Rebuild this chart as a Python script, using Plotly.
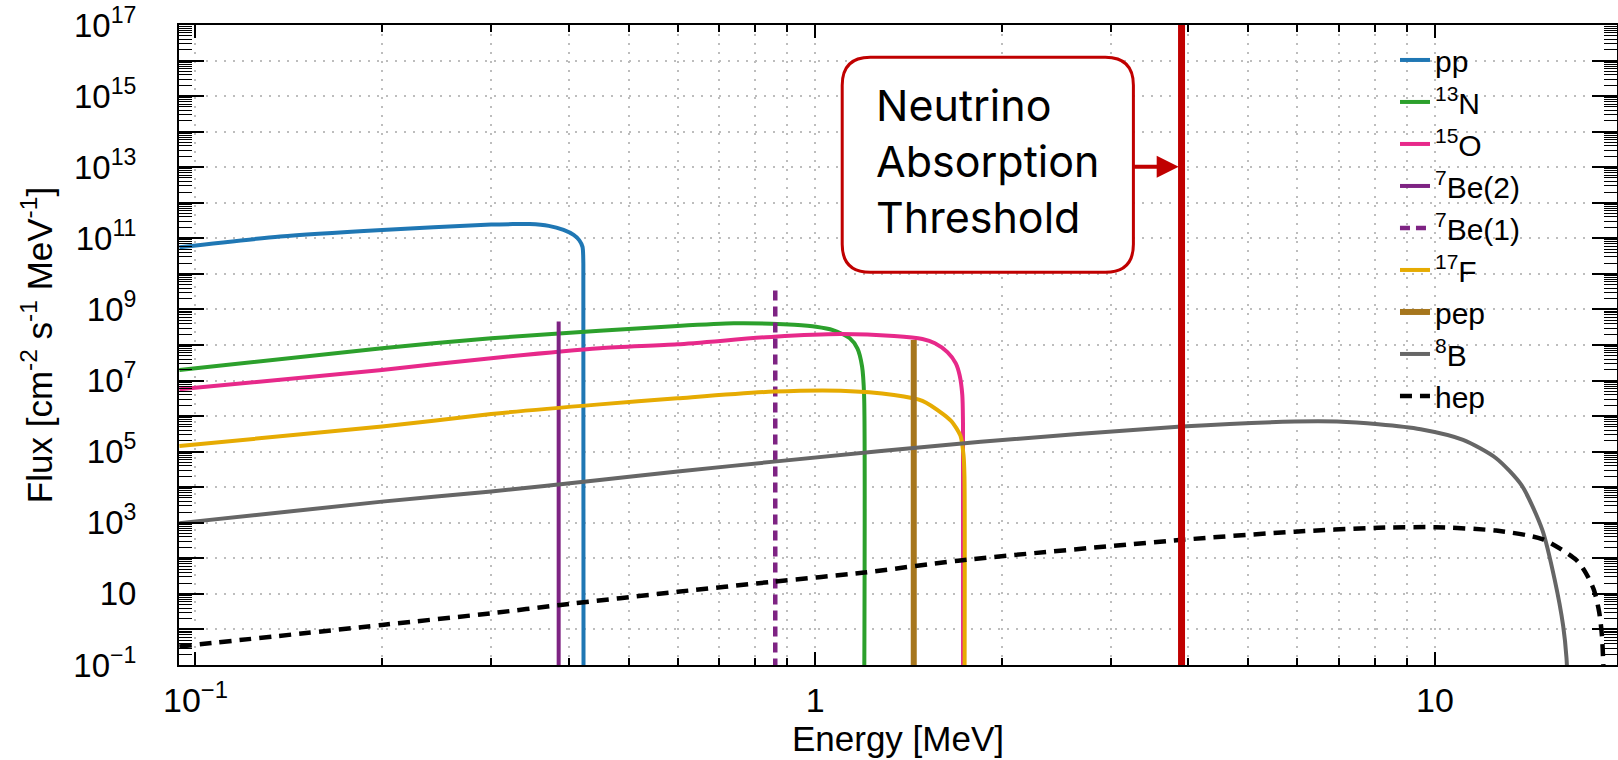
import numpy as np
import plotly.graph_objects as go

# ---------------- data ----------------
# energies in MeV, fluxes given as log10(flux [cm^-2 s^-1 MeV^-1])
pp_E = [0.0942, 0.137, 0.2, 0.3, 0.325, 0.346, 0.3715, 0.3925, 0.4075, 0.416, 0.4212, 0.4225, 0.4228]
pp_logF = [10.75, 11.05, 11.235, 11.39, 11.40, 11.40, 11.35, 11.235, 11.095, 10.95, 10.76, 10.3, -2]

n13_E = [0.0942, 0.2, 0.3, 0.449, 0.599, 0.739, 0.85, 0.925, 1.003, 1.068, 1.137, 1.17, 1.19, 1.199, 1.1995]
n13_logF = [7.30, 7.91, 8.19, 8.40, 8.535, 8.61, 8.60, 8.57, 8.515, 8.42, 8.19, 7.9, 7.4, 6.6, -2]

o15_E = [0.0942, 0.2, 0.3, 0.449, 0.599, 0.858, 1.099, 1.34, 1.489, 1.56, 1.634, 1.685, 1.71, 1.727, 1.7315, 1.732]
o15_logF = [6.755, 7.30, 7.63, 7.91, 8.02, 8.235, 8.31, 8.255, 8.17, 8.05, 7.8, 7.49, 7.15, 6.6, 5.8, -2]

be7_2_E = [0.3855, 0.3855]
be7_2_logF = [-2, 8.66]

be7_1_E = [0.862, 0.862]
be7_1_logF = [-2, 9.6]

f17_E = [0.0942, 0.2, 0.3, 0.449, 0.599, 0.858, 1.099, 1.34, 1.489, 1.61, 1.66, 1.715, 1.735, 1.741, 1.7415]
f17_logF = [5.16, 5.705, 6.06, 6.33, 6.50, 6.69, 6.715, 6.595, 6.43, 6.05, 5.85, 5.45, 4.9, 4.3, -2]

pep_E = [1.442, 1.442]
pep_logF = [-2, 8.14]

b8_E = [0.0942, 0.2, 0.3, 0.449, 0.6, 0.858, 1.85, 3.9, 5.94, 6.95, 8.1, 9.48, 11.1, 12.55, 13.8, 14.9, 15.6, 16.1, 16.3, 16.4]
b8_logF = [2.99, 3.595, 3.88, 4.205, 4.44, 4.72, 5.28, 5.705, 5.845, 5.845, 5.77, 5.63, 5.33, 4.815, 4.05, 2.8, 1.4, 0.1, -0.8, -2]

hep_E = [0.0942, 0.2, 0.3, 0.388, 0.6, 0.858, 1.2, 1.7, 3.9, 5.94, 8.1, 10.0, 12.55, 14.9, 16.9, 17.5, 18.05, 18.4, 18.6, 18.77]
hep_logF = [-0.48, 0.127, 0.455, 0.69, 1.06, 1.345, 1.60, 1.935, 2.52, 2.75, 2.86, 2.875, 2.78, 2.54, 1.955, 1.6, 1.11, 0.5, -0.2, -2]

threshold_E = [3.9, 3.9]
threshold_logF = [-3, 18]

names = ["pp", "<sup>13</sup>N", "<sup>15</sup>O", "<sup>7</sup>Be(2)", "<sup>7</sup>Be(1)",
         "<sup>17</sup>F", "pep", "<sup>8</sup>B", "hep"]

y_tick_exps = list(range(-1, 18))
x_tick_vals = [0.1, 1, 10]
x_tick_text = ["10<sup>\u22121</sup>", "1", "10"]

annotation_text = "Neutrino<br>Absorption<br>Threshold"

# ---------------- styles ----------------
colors = ["#1F77B4", "#2CA02C", "#E7298A", "#7E2383", "#7E2383",
          "#E6AB02", "#A6761D", "#666666", "#000000"]
dashes = ["solid", "solid", "solid", "solid", "10px,6px", "solid", "solid", "solid", "12px,8px"]
widths = [4, 4, 4, 4, 4.5, 4, 6, 4, 4.5]
shapes_ = ["spline", "spline", "spline", "linear", "linear", "spline", "linear", "spline", "spline"]

series = [(pp_E, pp_logF), (n13_E, n13_logF), (o15_E, o15_logF), (be7_2_E, be7_2_logF),
          (be7_1_E, be7_1_logF), (f17_E, f17_logF), (pep_E, pep_logF), (b8_E, b8_logF),
          (hep_E, hep_logF)]

fig = go.Figure()
for (E, lf), name, c, d, w, s in zip(series, names, colors, dashes, widths, shapes_):
    line = dict(color=c, width=w, dash=d, shape=s)
    if s == "spline":
        line["smoothing"] = 0.7
    fig.add_trace(go.Scatter(x=E, y=10 ** np.array(lf, dtype=float), mode="lines", name=name,
                             line=line, hoverinfo="skip"))

fig.add_trace(go.Scatter(x=threshold_E, y=10 ** np.array(threshold_logF, dtype=float), mode="lines",
                         line=dict(color="#C00000", width=7), showlegend=False, hoverinfo="skip"))

FONT = "Liberation Sans, Arial, sans-serif"
GRID = "#bdbdbd"

y_tickvals = [10.0 ** e for e in y_tick_exps]
y_ticktext = []
for e in y_tick_exps:
    if e % 2 == 0:
        y_ticktext.append("")
    elif e == 1:
        y_ticktext.append("10")
    else:
        y_ticktext.append("10<sup>%s</sup>" % (str(e).replace("-", "\u2212")))
y_minor = [m * 10.0 ** e for e in range(-1, 17) for m in range(2, 10)]
x_minor = [m * 10.0 ** e for e in (-1, 0) for m in range(2, 10)]

fig.update_xaxes(type="log", range=[-1.0266, 1.2937], automargin=False,
                 tickmode="array", tickvals=x_tick_vals, ticktext=x_tick_text,
                 ticks="inside", ticklen=13, tickwidth=2, tickcolor="black",
                 showline=True, linecolor="black", linewidth=2, mirror="ticks",
                 showgrid=True, gridcolor=GRID, gridwidth=1.5, griddash="2px,7px",
                 zeroline=False, ticklabelstandoff=4,
                 tickfont=dict(family=FONT, size=34, color="black"),
                 minor=dict(tickmode="array", tickvals=x_minor, ticks="inside", ticklen=7,
                            tickwidth=1.5, tickcolor="black", showgrid=True,
                            gridcolor=GRID, gridwidth=1.5, griddash="2px,7px"),
                 title=dict(text="Energy [MeV]", font=dict(family=FONT, size=35, color="black"),
                            standoff=0))
fig.update_yaxes(type="log", range=[-1, 17], automargin=False,
                 tickmode="array", tickvals=y_tickvals, ticktext=y_ticktext,
                 ticks="inside", ticklen=25, tickwidth=2, tickcolor="black",
                 showline=True, linecolor="black", linewidth=2, mirror="ticks",
                 showgrid=True, gridcolor=GRID, gridwidth=1.5, griddash="2px,7px",
                 zeroline=False, ticklabelstandoff=34,
                 tickfont=dict(family=FONT, size=33, color="black"),
                 minor=dict(tickmode="array", tickvals=y_minor, ticks="inside", ticklen=13,
                            tickwidth=1, tickcolor="black", showgrid=False),
                 title=dict(text="Flux [cm<sup>-2</sup> s<sup>-1</sup> MeV<sup>-1</sup>]",
                            font=dict(family=FONT, size=35, color="black"), standoff=10))

# rounded annotation box (paper coordinates)
x0, x1, y0, y1 = 0.4612, 0.6637, 0.6136, 0.9495
rx, ry = 0.0195, 0.04375
box_path = (f"M {x0+rx},{y1} L {x1-rx},{y1} Q {x1},{y1} {x1},{y1-ry} "
            f"L {x1},{y0+ry} Q {x1},{y0} {x1-rx},{y0} L {x0+rx},{y0} "
            f"Q {x0},{y0} {x0},{y0+ry} L {x0},{y1-ry} Q {x0},{y1} {x0+rx},{y1} Z")
fig.add_shape(type="path", path=box_path, xref="paper", yref="paper",
              line=dict(color="#C00000", width=3), fillcolor="white", layer="above")

fig.add_annotation(x=0.4834, y=0.787, xref="paper", yref="paper", xanchor="left", yanchor="middle",
                   text=annotation_text, showarrow=False, align="left",
                   font=dict(family="Inter, Noto Sans, sans-serif", size=43, color="black"))
fig.add_annotation(x=0.6952, y=0.7786, xref="paper", yref="paper", text="",
                   showarrow=True, ax=-46, ay=0, arrowhead=2, arrowsize=1.1, arrowwidth=4,
                   arrowcolor="#C00000")

fig.update_layout(width=1618, height=760,
                  margin=dict(l=179, r=1, t=25, b=95),
                  plot_bgcolor="white", paper_bgcolor="white",
                  font=dict(family=FONT, color="black"),
                  legend=dict(x=0.8456, y=0.986, xanchor="left", yanchor="top",
                              bgcolor="rgba(0,0,0,0)", borderwidth=0,
                              font=dict(family=FONT, size=30, color="black"),
                              tracegroupgap=0))

fig.write_html("out.html", config={"displayModeBar": False},
               post_script="document.body.style.margin='0';document.body.style.overflow='hidden';")
